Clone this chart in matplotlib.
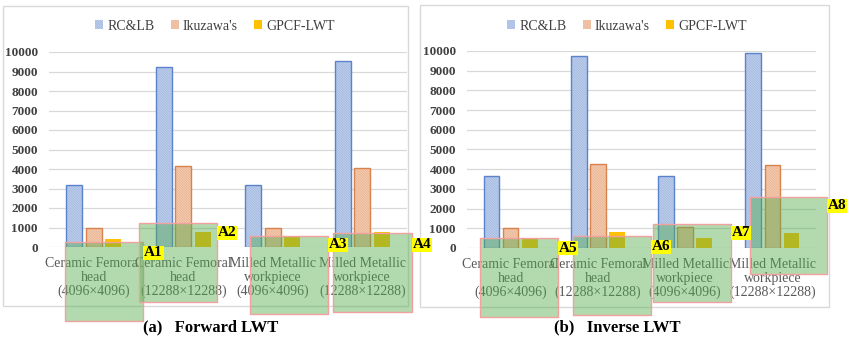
import numpy as np
import matplotlib
matplotlib.use("Agg")
import matplotlib.pyplot as plt
from matplotlib.patches import Rectangle, Patch

plt.rcParams['font.family'] = ['Liberation Serif', 'DejaVu Serif']
plt.rcParams['hatch.linewidth'] = 0.45

# Data (time, ms)
categories = ["Ceramic Femoral\nhead\n(4096×4096)",
              "Ceramic Femoral\nhead\n(12288×12288)",
              "Milled Metallic\nworkpiece\n(4096×4096)",
              "Milled Metallic\nworkpiece\n(12288×12288)"]
series_names = ["RC&LB", "Ikuzawa's", "GPCF-LWT"]

forward_rclb = [3200, 9250, 3200, 9550]
forward_ikuzawa = [1000, 4150, 950, 4030]
forward_gpcf = [400, 750, 520, 750]

inverse_rclb = [3670, 9760, 3670, 9880]
inverse_ikuzawa = [1000, 4250, 1050, 4200]
inverse_gpcf = [500, 830, 500, 780]

panel_titles = ["(a)   Forward LWT", "(b)   Inverse LWT"]
box_labels = ["A1", "A2", "A3", "A4", "A5", "A6", "A7", "A8"]

W, H = 847, 340
TEXT = "#595959"
HATCH = "\\" * 20

# (fill, hatch line colour, outline) per series; None hatch -> solid
styles = [
    ("#dfe7f5", "#8aa7da", "#5b82cc", HATCH),
    ("#f9e3d5", "#e6a378", "#d9824c", HATCH),
    ("#FFC000", None, "#FFC000", None),
]


def px_rect(x0, y0, x1, y1):
    # pixel box (top-left origin) -> figure fraction
    return (x0 / W, 1 - y1 / H, (x1 - x0) / W, (y1 - y0) / H)


fig = plt.figure(figsize=(W / 100, H / 100), dpi=100)

# light panel frames
for (x0, y0, x1, y1) in [(3, 6, 408, 306), (420, 5, 829, 307)]:
    fx, fy, fw, fh = px_rect(x0, y0, x1, y1)
    fig.add_artist(Rectangle((fx, fy), fw, fh, transform=fig.transFigure,
                             facecolor="none", edgecolor="#d9d9d9", lw=1, zorder=0))

panels = [
    (px_rect(49, 52, 407, 247), (forward_rclb, forward_ikuzawa, forward_gpcf), 215),
    (px_rect(467, 51, 816, 248), (inverse_rclb, inverse_ikuzawa, inverse_gpcf), 627),
]

x = np.arange(len(categories))
width = 0.18
offsets = [-0.22, 0, 0.22]

for i, (rect, data, legend_x) in enumerate(panels):
    ax = fig.add_axes(rect)
    for vals, off, (fill, hcol, edge, hatch) in zip(data, offsets, styles):
        if hatch:
            # hatch lines take the edge colour, so outline separately
            ax.bar(x + off, vals, width, facecolor=fill, edgecolor=hcol,
                   hatch=hatch, linewidth=0, zorder=2)
            ax.bar(x + off, vals, width, facecolor="none", edgecolor=edge,
                   linewidth=1.0, zorder=3)
        else:
            ax.bar(x + off, vals, width, color=fill, linewidth=0, zorder=2)
    ax.set_xlim(-0.5, 3.5)
    ax.set_ylim(0, 10000)
    ax.set_yticks(range(0, 10001, 1000))
    ax.set_xticks(x)
    ax.set_xticklabels(categories, fontsize=10, color=TEXT, linespacing=1.1)
    ax.tick_params(axis="both", length=0)
    ax.tick_params(axis="y", pad=8, labelsize=9.5, labelcolor="#404040")
    ax.tick_params(axis="x", pad=7)
    for lab in ax.get_yticklabels():
        lab.set_fontweight("bold")
    ax.grid(axis="y", color="#d9d9d9", lw=0.9)
    ax.set_axisbelow(True)
    for s in ax.spines.values():
        s.set_visible(False)

    handles = []
    for fill, hcol, edge, hatch in styles:
        if hatch:
            handles.append(Patch(facecolor=fill, edgecolor=hcol, hatch=hatch, lw=0))
        else:
            handles.append(Patch(facecolor=fill, lw=0))
    fig.legend(handles, series_names, loc="center", ncol=3, frameon=False,
               bbox_to_anchor=(legend_x / W, 1 - 26 / H), fontsize=10,
               handlelength=0.55, handleheight=0.55, handletextpad=0.3,
               columnspacing=1.2, labelcolor="#404040")

    fig.text((211 if i == 0 else 617) / W, 1 - 327 / H, panel_titles[i],
             ha="center", va="center", fontsize=12, fontweight="bold")

# highlighted regions with their tags
boxes = [(65, 242, 143, 321), (139, 223, 217, 302), (250, 236, 328, 314), (333, 233, 412, 312),
         (480, 238, 558, 317), (573, 236, 651, 315), (653, 224, 731, 302), (750, 197, 827, 274)]
tag_y = [253, 233, 245, 245, 248, 247, 233, 206]

for (x0, y0, x1, y1), lab, ty in zip(boxes, box_labels, tag_y):
    fx, fy, fw, fh = px_rect(x0, y0, x1, y1)
    fig.add_artist(Rectangle((fx, fy), fw, fh, transform=fig.transFigure,
                             facecolor=(0.33, 0.68, 0.30, 0.45), edgecolor="#f2a0a0",
                             lw=1, zorder=5))
    fig.text((x1 + 1) / W, 1 - ty / H, lab, ha="left", va="center", fontsize=11,
             fontweight="bold", zorder=6,
             bbox=dict(facecolor="#ffff00", edgecolor="none", pad=0.5))

fig.savefig("out.png", dpi=100)
